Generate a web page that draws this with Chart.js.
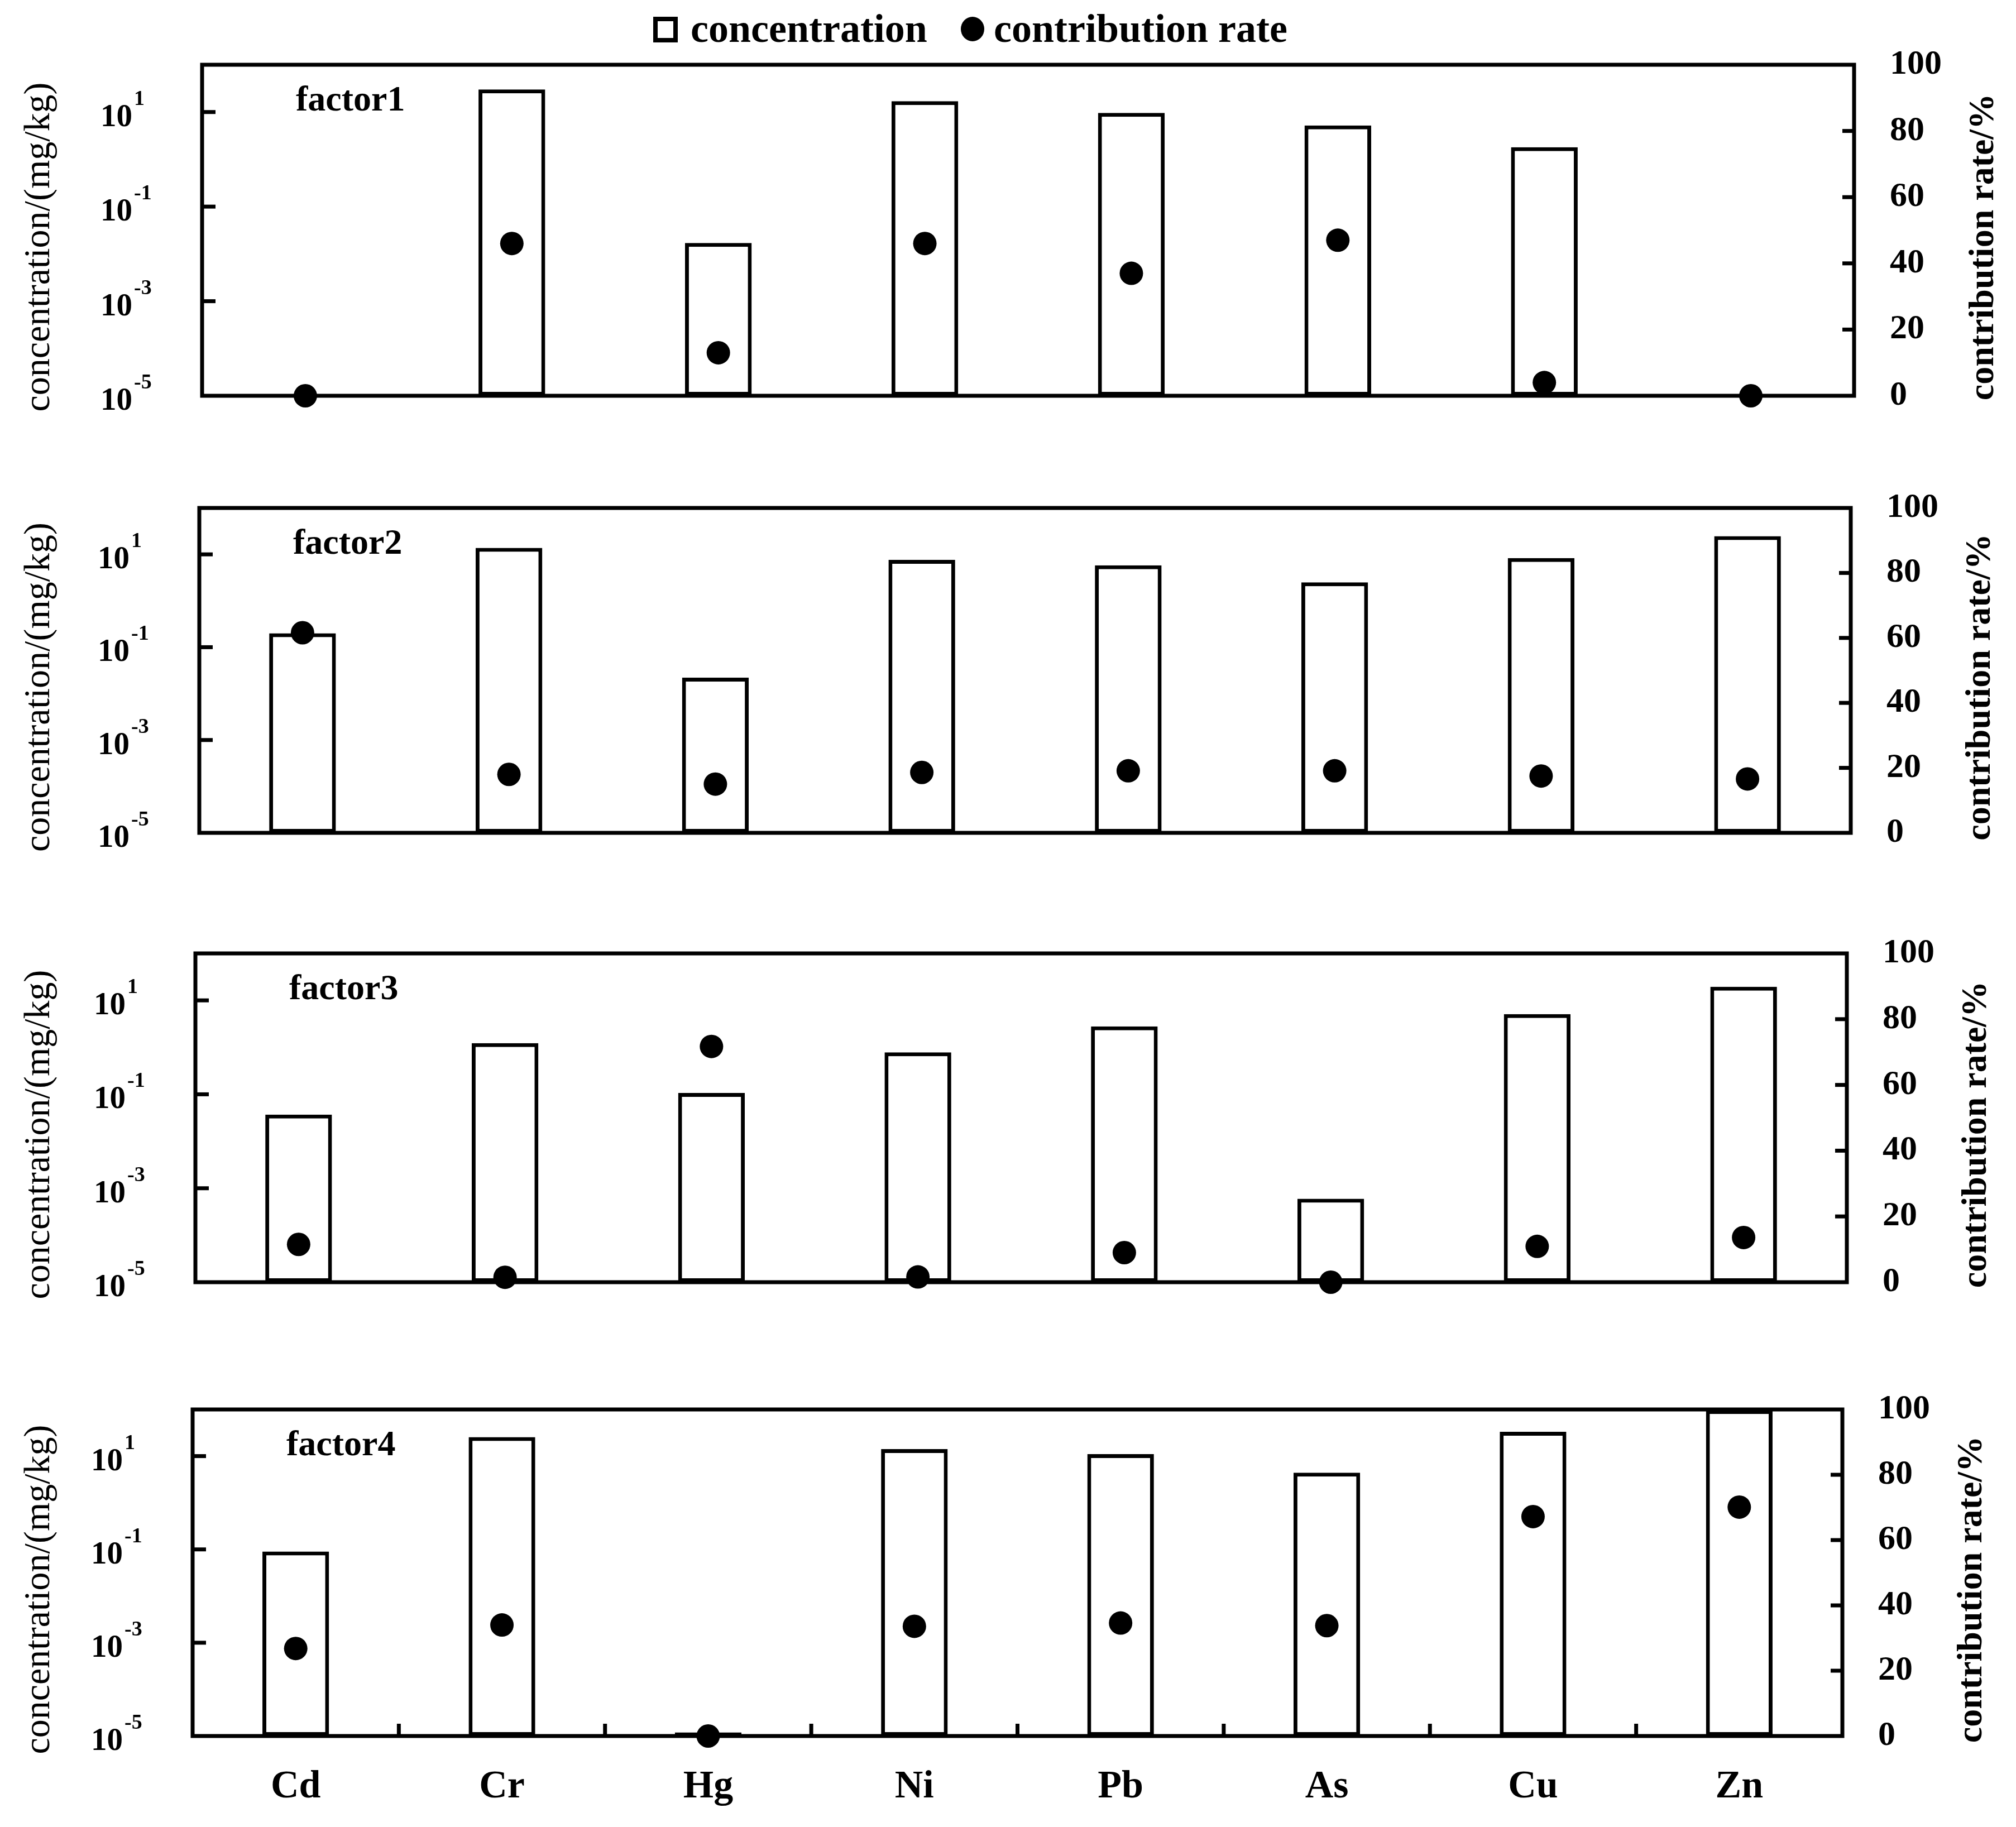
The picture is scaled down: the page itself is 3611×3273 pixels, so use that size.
<!DOCTYPE html>
<html>
<head>
<meta charset="utf-8">
<script src="https://cdn.jsdelivr.net/npm/chart.js@4.4.0/dist/chart.umd.min.js"></script>
<style>
html,body{margin:0;padding:0;background:#fff;overflow:hidden;width:3611px;height:3273px;}
canvas{position:absolute;left:0;}
</style>
</head>
<body>
<canvas id="c1" width="3611" height="830" style="top:0px"></canvas>
<canvas id="c2" width="3611" height="810" style="top:800px"></canvas>
<canvas id="c3" width="3611" height="810" style="top:1600px"></canvas>
<canvas id="c4" width="3611" height="863" style="top:2410px"></canvas>
<script>
// ---------- data ----------
const categories = ['Cd', 'Cr', 'Hg', 'Ni', 'Pb', 'As', 'Cu', 'Zn'];
const factorNames = ['factor1', 'factor2', 'factor3', 'factor4'];
const seriesNames = ['concentration', 'contribution rate'];

const concentration1 = [null, 30, 0.017, 17, 9.6, 5.2, 1.8, null];
const rate1 = [0, 46, 13, 46, 37, 47, 4, 0];
const concentration2 = [0.20, 13.8, 0.022, 7.6, 5.8, 2.5, 8.3, 24.7];
const rate2 = [61.6, 18, 15, 18.6, 19.1, 19.1, 17.5, 16.6];
const concentration3 = [0.037, 1.23, 0.107, 0.78, 2.8, 0.0006, 5.1, 19.5];
const rate3 = [11.5, 1.5, 71.7, 1.6, 9.0, 0, 10.9, 13.6];
const concentration4 = [0.09, 25.6, 0.000012, 14.1, 11.0, 4.4, 33.2, 97];
const rate4 = [26.8, 34, 0, 33.6, 34.6, 33.8, 67.2, 70.1];

const logTickValues = [10, 0.1, 0.001, 0.00001];
const logTickExponents = ['1', '-1', '-3', '-5'];
const leftTitle = 'concentration/(mg/kg)';
const rightTitle = 'contribution rate/%';

// ---------- drawing ----------
const SERIF = '"Liberation Serif", "Times New Roman", serif';
const PAGE_W = 3611;

function makePanel(id, cfg) {
  const { canvasTop, canvasH, L, R, T, B, conc, rate, idx, showX, legend } = cfg;

  const panelPlugin = {
    id: 'panelDecor' + idx,
    beforeDatasetsDraw(chart) {
      const ctx = chart.ctx;
      const a = chart.chartArea;
      ctx.save();
      ctx.strokeStyle = '#000';
      ctx.lineWidth = 7;
      ctx.lineCap = 'square';
      ctx.strokeRect(a.left, a.top, a.right - a.left, a.bottom - a.top);
      ctx.lineCap = 'butt';
      // left inward ticks
      const ys = chart.scales.y;
      logTickValues.forEach(v => {
        if (v <= ys.min || v >= ys.max) return;
        const y = ys.getPixelForValue(v);
        ctx.beginPath(); ctx.moveTo(a.left, y); ctx.lineTo(a.left + 24, y); ctx.stroke();
      });
      // right inward ticks
      const y2 = chart.scales.y2;
      y2.ticks.forEach(t => {
        if (t.value <= y2.min || t.value >= y2.max) return;
        const y = y2.getPixelForValue(t.value);
        ctx.beginPath(); ctx.moveTo(a.right - 21, y); ctx.lineTo(a.right, y); ctx.stroke();
      });
      // category boundary ticks
      if (showX) {
        const xs = chart.scales.x;
        for (let k = 1; k < categories.length; k++) {
          const x = (xs.getPixelForValue(k - 1) + xs.getPixelForValue(k)) / 2;
          ctx.beginPath(); ctx.moveTo(x, a.bottom); ctx.lineTo(x, a.bottom - 22); ctx.stroke();
        }
      }
      ctx.restore();
    },
    afterDraw(chart) {
      const ctx = chart.ctx;
      const a = chart.chartArea;
      const ys = chart.scales.y;
      ctx.save();
      ctx.fillStyle = '#000';
      // left log tick labels with superscripts
      logTickValues.forEach((v, i) => {
        const y = ys.getPixelForValue(v);
        ctx.font = 'bold 57px ' + SERIF;
        ctx.textAlign = 'right';
        ctx.textBaseline = 'alphabetic';
        ctx.fillText('10', a.left - 125, y + 25);
        ctx.font = 'bold 38px ' + SERIF;
        ctx.textAlign = 'left';
        ctx.fillText(logTickExponents[i], a.left - 122, y - 13);
      });
      const cy = (a.top + a.bottom) / 2 + 30;
      // left title
      ctx.save();
      ctx.translate(71, cy);
      ctx.rotate(-Math.PI / 2);
      ctx.font = '66px ' + SERIF;
      ctx.textAlign = 'center';
      ctx.textBaseline = 'middle';
      ctx.fillText(leftTitle, 0, 0);
      ctx.restore();
      // right title
      ctx.save();
      ctx.translate(a.right + 232, cy);
      ctx.rotate(-Math.PI / 2);
      ctx.font = 'bold 64px ' + SERIF;
      ctx.textAlign = 'center';
      ctx.textBaseline = 'middle';
      ctx.fillText(rightTitle, 0, 0);
      ctx.restore();
      // factor label
      ctx.font = 'bold 64px ' + SERIF;
      ctx.textAlign = 'left';
      ctx.textBaseline = 'alphabetic';
      ctx.fillText(factorNames[idx], a.left + 168, a.top + 82);
      // legend
      if (legend) {
        const ds = chart.data.datasets;
        const barLabel = ds[1].label, dotLabel = ds[0].label;
        ctx.lineWidth = 8;
        ctx.strokeStyle = '#000';
        ctx.strokeRect(1174, 34, 36, 38);
        ctx.font = 'bold 72px ' + SERIF;
        ctx.textAlign = 'left';
        ctx.textBaseline = 'alphabetic';
        ctx.fillText(barLabel, 1237, 75);
        ctx.beginPath();
        ctx.ellipse(1742, 52, 21, 22, 0, 0, Math.PI * 2);
        ctx.fill();
        ctx.fillText(dotLabel, 1780, 75);
      }
      ctx.restore();
    }
  };

  return new Chart(document.getElementById(id), {
    data: {
      labels: categories,
      datasets: [
        {
          type: 'line', label: seriesNames[1], data: rate, yAxisID: 'y2',
          showLine: false, pointRadius: 21, pointHoverRadius: 21,
          pointBackgroundColor: '#000', pointBorderColor: '#000', pointBorderWidth: 0,
          clip: false, order: 0
        },
        {
          type: 'bar', label: seriesNames[0], data: conc, yAxisID: 'y',
          backgroundColor: '#fff', borderColor: '#000', borderWidth: 7,
          borderSkipped: false, barPercentage: 0.323, categoryPercentage: 1, order: 1
        }
      ]
    },
    options: {
      responsive: false, animation: false, devicePixelRatio: 1,
      events: [],
      layout: { padding: { top: T - canvasTop, bottom: 0, left: 0, right: 0 } },
      plugins: { legend: { display: false }, tooltip: { enabled: false } },
      scales: {
        x: {
          type: 'category', offset: true,
          grid: { display: false, drawTicks: false }, border: { display: false },
          ticks: { display: showX, color: '#000', padding: 50, maxRotation: 0, autoSkip: false,
                   font: { family: SERIF, size: 70, weight: 'bold' } },
          afterFit(s) { s.height = canvasTop + canvasH - B; }
        },
        y: {
          type: 'logarithmic', position: 'left', min: 1e-5, max: 100,
          grid: { display: false, drawTicks: false }, border: { display: false },
          ticks: { display: false },
          afterBuildTicks(s) { s.ticks = logTickValues.map(v => ({ value: v })); },
          afterFit(s) { s.width = L; }
        },
        y2: {
          type: 'linear', position: 'right', min: 0, max: 100,
          grid: { display: false, drawTicks: false }, border: { display: false },
          ticks: { stepSize: 20, color: '#000', padding: 64,
                   font: { family: SERIF, size: 62, weight: 'bold' } },
          afterFit(s) { s.width = PAGE_W - R; }
        }
      }
    },
    plugins: [panelPlugin]
  });
}

makePanel('c1', { canvasTop: 0,    canvasH: 830, L: 362, R: 3321, T: 116,  B: 709,  conc: concentration1, rate: rate1, idx: 0, showX: false, legend: true });
makePanel('c2', { canvasTop: 800,  canvasH: 810, L: 357, R: 3315, T: 910,  B: 1492, conc: concentration2, rate: rate2, idx: 1, showX: false, legend: false });
makePanel('c3', { canvasTop: 1600, canvasH: 810, L: 350, R: 3308, T: 1708, B: 2297, conc: concentration3, rate: rate3, idx: 2, showX: false, legend: false });
makePanel('c4', { canvasTop: 2410, canvasH: 863, L: 345, R: 3300, T: 2525, B: 3110, conc: concentration4, rate: rate4, idx: 3, showX: true,  legend: false });
</script>
</body>
</html>
